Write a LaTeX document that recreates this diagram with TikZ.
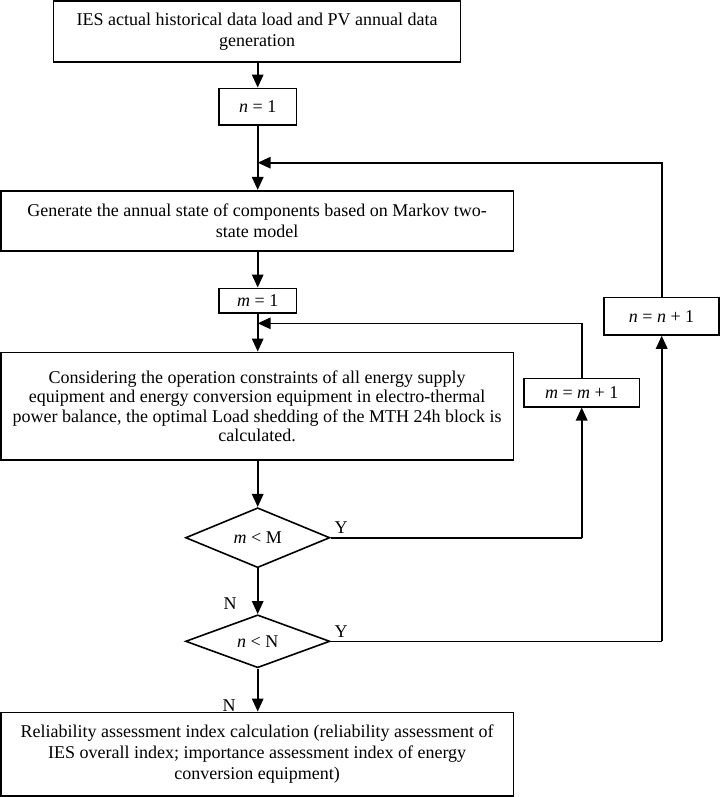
\documentclass[tikz,border=0pt]{standalone}
\usepackage{fontspec}
\setmainfont{Liberation Serif}
\usetikzlibrary{shapes.geometric,arrows.meta}
\begin{document}
\begin{tikzpicture}[x=1bp,y=-1bp,
  every node/.style={font=\fontsize{18bp}{21bp}\selectfont},
  box/.style={draw,line width=1.6bp,rectangle,inner sep=2bp,align=center},
  dec/.style={draw,line width=1.6bp,diamond,inner sep=0pt},
  lbl/.style={inner sep=0pt},
  conn/.style={line width=1.6bp},
  arr/.style={line width=1.6bp,-{Triangle[length=13bp,width=11.5bp]}}]
\useasboundingbox (0,0) rectangle (720,797);
\node[box,minimum width=406.8bp,minimum height=60.7bp] (b1) at (257.1,31.35)
  {IES actual historical data load and PV annual data\\generation};
\node[box,minimum width=77.7bp,minimum height=36.7bp] (n1) at (257.7,106.7) {\textit{n} = 1};
\node[box,minimum width=512.3bp,minimum height=60bp] (b2) at (257.15,220.7)
  {Generate the annual state of components based on Markov two-\\state model};
\node[box,minimum width=77.7bp,minimum height=24.4bp] (m1) at (257.7,300.5) {\textit{m} = 1};
\node[box,minimum width=512.3bp,minimum height=107.7bp,
  font=\fontsize{18bp}{19.5bp}\selectfont] (b3) at (257.15,406.2)
  {Considering the operation constraints of all energy supply\\
   equipment and energy conversion equipment in electro-thermal\\
   power balance, the optimal Load shedding of the MTH 24h block is\\
   calculated.};
\node[box,minimum width=115.3bp,minimum height=28.4bp] (mm1) at (581.7,392.5)
  {\textit{m} = \textit{m} + 1};
\node[box,minimum width=114.5bp,minimum height=37.3bp] (nn1) at (661.5,316.3)
  {\textit{n} = \textit{n} + 1};
\node[dec,minimum width=144.3bp,minimum height=43.3bp] (d1) at (257.7,537.7) {\textit{m} < M};
\node[dec,minimum width=144.3bp,minimum height=44bp] (d2) at (257.7,641.3) {\textit{n} < N};
\node[box,minimum width=512.3bp,minimum height=83.7bp] (b4) at (257.15,754.2)
  {Reliability assessment index calculation (reliability assessment of\\
   IES overall index; importance assessment index of energy\\
   conversion equipment)};
\node[lbl] (y1) at (341,528) {Y};
\node[lbl] (y2) at (341,632) {Y};
\node[lbl] (nl1) at (230,603.5) {N};
\node[lbl] (nl2) at (229,706) {N};
\coordinate (j1) at (257.7,162.7);
\coordinate (j2) at (257.7,323.3);
\coordinate (c1) at (581.7,537.7);
\coordinate (c2) at (661.7,641.3);
\draw[arr] (b1.south -| n1.north) -- (n1.north);
\draw[arr] (n1.south) -- (b2.north -| n1.south);
\draw[arr] (b2.south -| m1.north) -- (m1.north);
\draw[arr] (m1.south) -- (b3.north -| m1.south);
\draw[arr] (b3.south -| d1.north) -- (d1.north);
\draw[arr] (d1.south) -- (d2.north);
\draw[arr] (d2.south) -- (b4.north -| d2.south);
\draw[conn] (d1.east) -- (c1);
\draw[arr] (c1) -- (mm1.south);
\draw[arr] (mm1.north) |- (j2);
\draw[conn] (d2.east) -- (c2);
\draw[arr] (c2) -- (c2 |- nn1.south);
\draw[arr] (nn1.north -| c2) |- (j1);
\end{tikzpicture}
\end{document}
